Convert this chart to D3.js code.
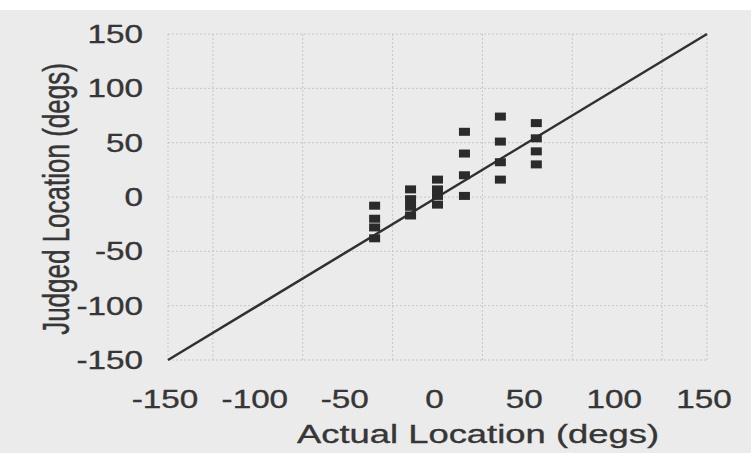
<!DOCTYPE html>
<html>
<head>
<meta charset="utf-8">
<script src="https://cdn.jsdelivr.net/npm/d3@7"></script>
<style>
  body { margin: 0; background: #fff; }
  text { font-family: "Liberation Sans", Arial, sans-serif; fill: #363636; stroke: #363636; stroke-width: 0.35px; }
</style>
</head>
<body>
<script>
// actual location (x) of each stimulus column, and judged locations at it
const actual = [-35, -15, 0, 15, 35, 55]
const judged = [
    [-8, -20, -28, -38],
    [7, -2, -9, -17],
    [16, 7, 1, -7],
    [60, 40, 20, 1],
    [74, 51, 32, 16],
    [68, 54, 42, 30]
]
const ticks = [-150, -100, -50, 0, 50, 100, 150]
const vGrid = [-125, -75, -25, 25, 75, 125]

const width = 751, height = 453
const stretch = 1.33   // scan is wider than tall

const svg = d3.select('body').append('svg')
    .attr('width', width)
    .attr('height', height)

svg.append('rect')
    .attr('x', 0).attr('y', 10)
    .attr('width', width).attr('height', height - 10)
    .attr('fill', '#ebebeb')

const x = d3.scaleLinear().domain([-150, 150]).range([168, 707])
const y = d3.scaleLinear().domain([-150, 150]).range([360, 34])

// faint grid, as in the scan
const grid = svg.append('g')
    .attr('stroke', '#c6c6c6')
    .attr('stroke-width', 1)
    .attr('stroke-dasharray', '2,2')
grid.selectAll('.h').data(ticks).enter().append('line')
    .attr('x1', x(-150)).attr('x2', x(150))
    .attr('y1', d => y(d)).attr('y2', d => y(d))
grid.selectAll('.v').data(vGrid.concat([-150, 150])).enter().append('line')
    .attr('y1', y(-150)).attr('y2', y(150))
    .attr('x1', d => x(d)).attr('x2', d => x(d))

// tick labels
svg.append('g').selectAll('text')
    .data(ticks).enter().append('text')
    .attr('transform', d => 'translate(' + (x(-150) - 25) + ',' + (y(d) + 9) + ') scale(' + stretch + ',1)')
    .attr('text-anchor', 'end')
    .style('font-size', '25px')
    .text(d => d)

svg.append('g').selectAll('text')
    .data(ticks).enter().append('text')
    .attr('transform', d => 'translate(' + (x(d) - 3) + ',408) scale(' + stretch + ',1)')
    .attr('text-anchor', 'middle')
    .style('font-size', '25px')
    .text(d => d)

// axis titles
svg.append('text')
    .attr('transform', 'translate(478,443) scale(1.4,1)')
    .attr('text-anchor', 'middle')
    .style('font-size', '26px')
    .text('Actual Location (degs)')

svg.append('text')
    .attr('transform', 'translate(69,199) scale(1.4,1) rotate(-90)')
    .attr('text-anchor', 'middle')
    .style('font-size', '26px')
    .text('Judged Location (degs)')

// identity line
svg.append('line')
    .attr('x1', x(-150)).attr('y1', y(-150))
    .attr('x2', x(150)).attr('y2', y(150))
    .attr('stroke', '#303030')
    .attr('stroke-width', 2.5)

// data squares
const pts = []
actual.forEach((a, i) => judged[i].forEach(j => pts.push([a, j])))
svg.append('g').selectAll('rect')
    .data(pts).enter().append('rect')
    .attr('x', d => x(d[0]) - 5.5)
    .attr('y', d => y(d[1]) - 4)
    .attr('width', 11)
    .attr('height', 8)
    .attr('fill', '#2b2b2b')
</script>
</body>
</html>
